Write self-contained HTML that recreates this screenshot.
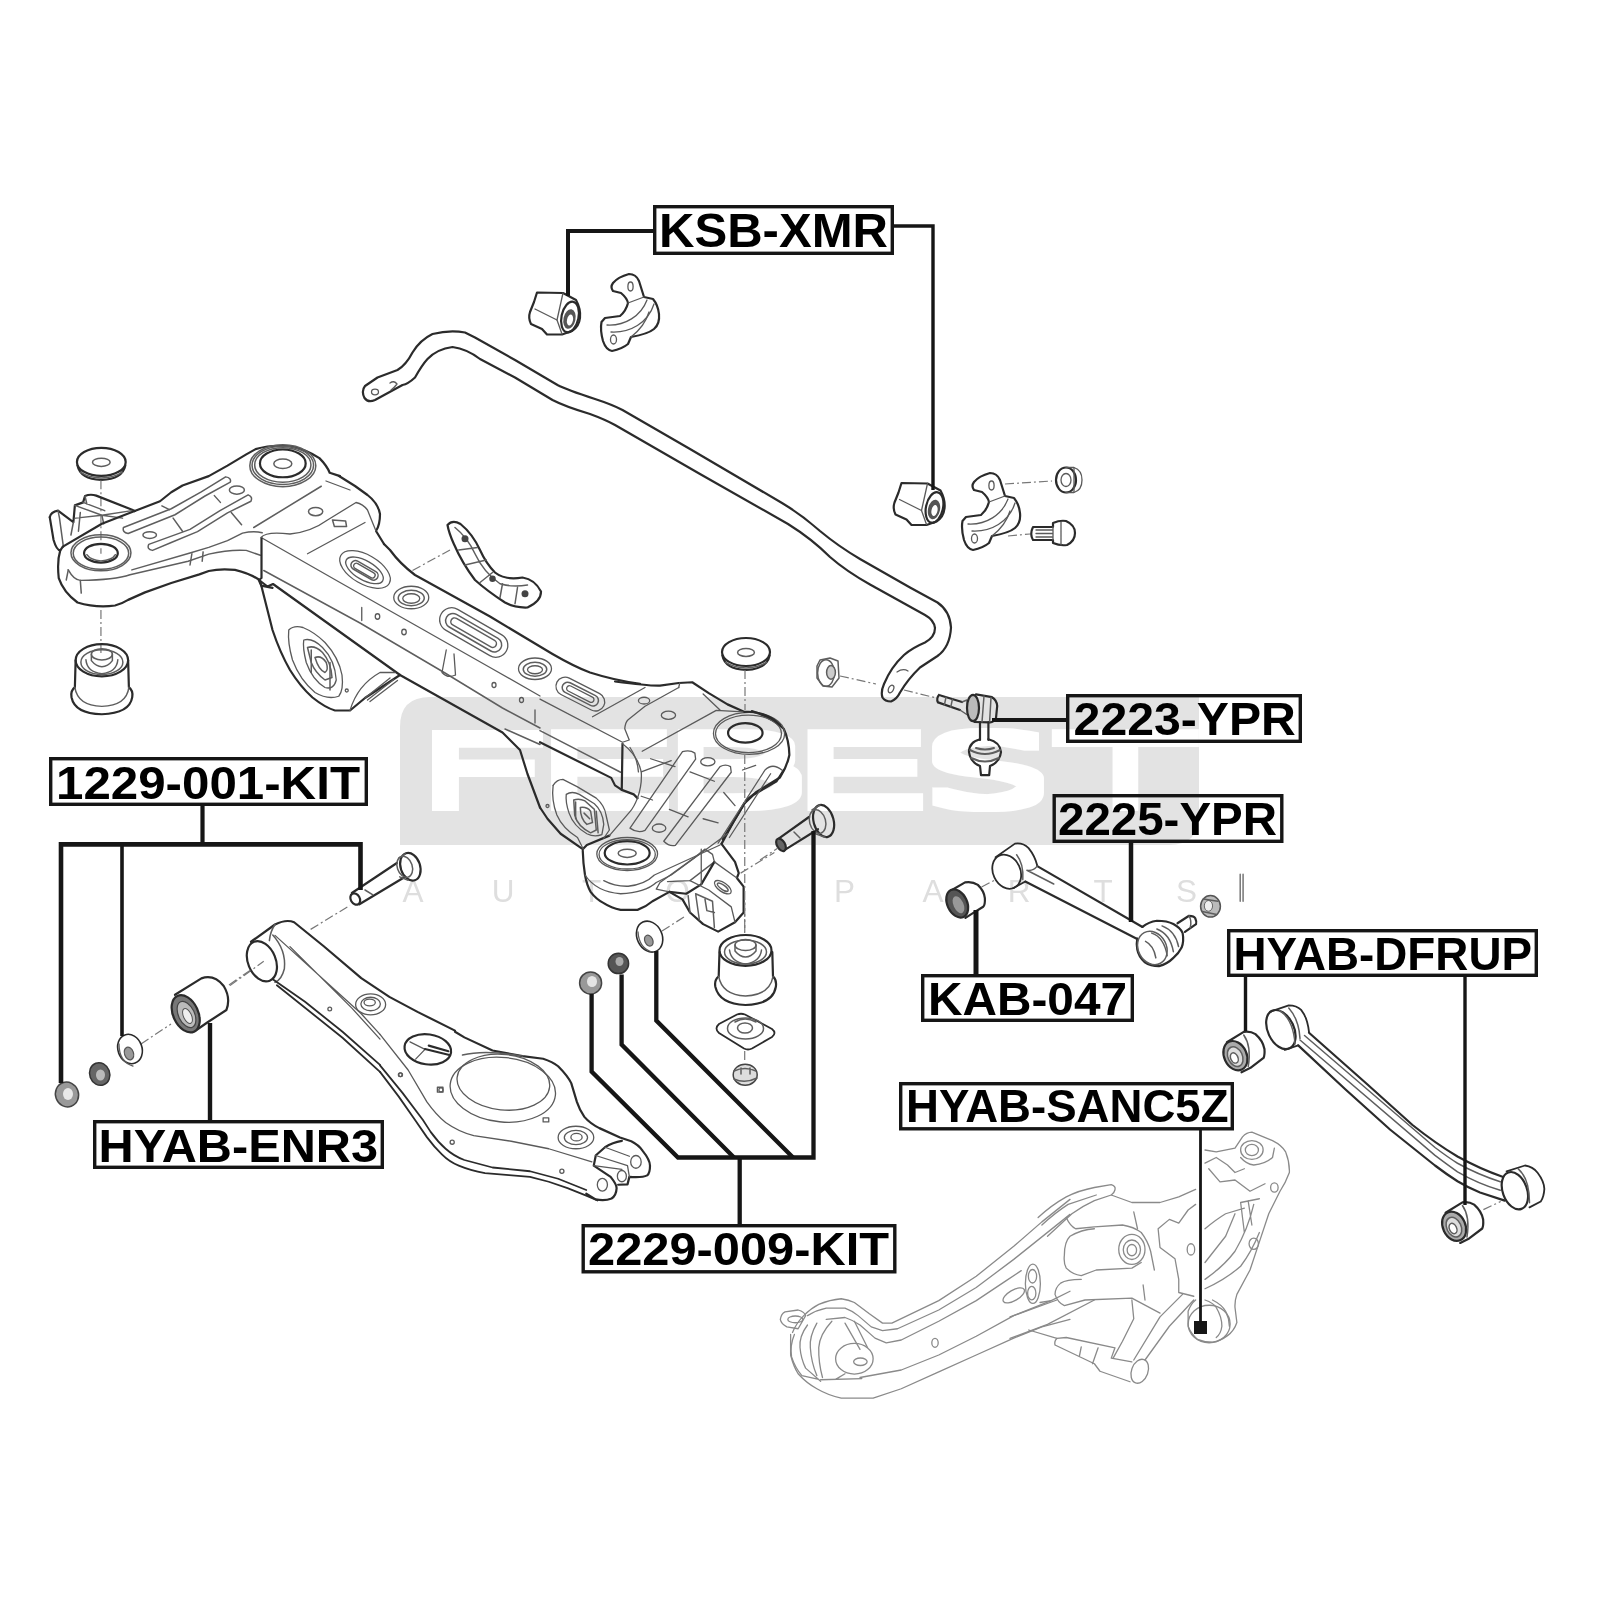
<!DOCTYPE html>
<html><head><meta charset="utf-8"><title>Rear suspension parts diagram</title>
<style>
html,body{margin:0;padding:0;background:#fff;}
body{width:1600px;height:1600px;overflow:hidden;font-family:"Liberation Sans",sans-serif;}
svg{display:block;filter:blur(0.55px)}
.o,.i,.g,.d,.m{vector-effect:non-scaling-stroke}
.o{fill:none;stroke:#2b2b2b;stroke-width:2.2;stroke-linecap:round;stroke-linejoin:round}
.i{fill:none;stroke:#5a5a5a;stroke-width:1.3;stroke-linecap:round;stroke-linejoin:round}
.g{fill:none;stroke:#8a8a8a;stroke-width:1.3;stroke-linecap:round;stroke-linejoin:round}
.d{fill:none;stroke:#777;stroke-width:1.2;stroke-dasharray:9 3 2 3}
.m{fill:none;stroke:#5e5e5e;stroke-width:1.5;stroke-linecap:round;stroke-linejoin:round}
.L{fill:none;stroke:#161616;stroke-width:4.2;stroke-linejoin:miter;stroke-linecap:butt}
.b{fill:none;stroke:#161616;stroke-width:3.4}
.t{font-family:"Liberation Sans",sans-serif;font-weight:700;fill:#000}
.w{fill:#fff}
</style></head><body>
<svg width="1600" height="1600" viewBox="0 0 1600 1600">
<rect width="1600" height="1600" fill="#fff"/>
<!-- 00_watermark.svg -->
<g id="wm">
<defs><filter id="fat" filterUnits="userSpaceOnUse" x="380" y="690" width="860" height="170"><feMorphology operator="dilate" radius="7 7"/></filter></defs>
<path d="M430 697 H1199 V815 Q1199 845 1169 845 H400 V727 Q400 697 430 697 Z" fill="#e3e3e3"/>
<text filter="url(#fat)" y="804" font-family="DejaVu Sans, Liberation Sans, sans-serif" font-weight="200" font-size="92" fill="#fff"><tspan x="406.97" textLength="150.95" lengthAdjust="spacingAndGlyphs">F</tspan><tspan x="527.96" textLength="156.12" lengthAdjust="spacingAndGlyphs">E</tspan><tspan x="655.82" textLength="155.27" lengthAdjust="spacingAndGlyphs">B</tspan><tspan x="785.18" textLength="152.37" lengthAdjust="spacingAndGlyphs">E</tspan><tspan x="920.25" textLength="133.96" lengthAdjust="spacingAndGlyphs">S</tspan><tspan x="1053.84" textLength="143.31" lengthAdjust="spacingAndGlyphs">T</tspan></text>
<g font-family="Liberation Sans, sans-serif" font-size="31.5" fill="#dedede" text-anchor="middle">
<text y="901.5"><tspan x="413">A</tspan><tspan x="503">U</tspan><tspan x="591.5">T</tspan><tspan x="682">O</tspan> <tspan x="844.5">P</tspan><tspan x="933">A</tspan><tspan x="1019">R</tspan><tspan x="1103">T</tspan><tspan x="1186.6">S</tspan></text>
</g>
</g>
<!-- p10_stab.svg -->
<g id="stab">
<defs>
<g id="bush">
<path class="o" d="M537 292.5 L563 293 L576 300 Q581 309 580 318 Q579 327 572 331 L562 334.5 L547 334.5 L542 329 L531 324 Q528 318 530 312 L534 302 Z"/>
<path class="i" d="M563 293 L557 320 L562 334"/>
<path class="i" d="M535 309 L557 320"/>
<ellipse class="o" cx="570" cy="317" rx="8.5" ry="15.5" transform="rotate(12 570 317)"/>
<ellipse cx="569.5" cy="319" rx="6" ry="10" transform="rotate(12 569.5 319)" fill="#555"/>
<ellipse cx="570" cy="320" rx="3" ry="5.5" transform="rotate(12 570 320)" fill="#fff"/>
</g>
<g id="brkt">
<path class="o" d="M613 283 Q618 277 629 274 Q636 274 639 281 L644 297 L653 299 Q658 305 659 314 Q660 324 654 329 Q648 334 631 337 L628 344 Q622 349 612 351 Q606 350 603 341 Q600 330 601.5 322 L605 318 L620 316 Q626 311 628 303 Q627 298 621 293 L613 291 Q610 287 613 283 Z"/>
<ellipse class="i" cx="630.5" cy="286.5" rx="2.6" ry="4.5"/>
<ellipse class="i" cx="613.5" cy="339.5" rx="3" ry="4.5"/>
<path class="i" d="M607 325 C625 326 641 316 647 300"/>
<path class="i" d="M611 332 C630 333 648 323 654 304"/>
<path class="i" d="M628 303 L644 297 M631 337 C640 330 646 322 649 312"/>
</g>
</defs>
<use href="#bush"/>
<use href="#brkt"/>
<use href="#bush" transform="translate(364.5 190.5)"/>
<use href="#brkt" transform="translate(361 199)"/>
<!-- bar -->
<path class="o" d="M365 386 L377.5 377.5 L397.5 370 Q406 365 412.5 352.5 Q420 340 432.500 334 Q450 329.500 465 332.500 L475 337.500 L515 360 L557.500 385 Q566 389.500 595 399 Q612 404.500 622.500 410 L690 449 L782 503 Q802 515 820 531 Q838 546 860 559 L910 587.5 L937.5 602.5 Q950 611 951 627.5 Q950 647 937.5 656 L920 667.5 Q908 679 900 692.5 Q897 699 891 701.5 Q885 701.5 882.5 697.5 Q880.5 692 884 684 Q891 667 904 655 Q912 648 925 642.5 Q935 637 935 628 Q934 620 925 615 L870 584.5 Q846 571 830 557 Q812 539 788 524 L700 474 L615 425 Q605 419.500 590 414 Q565 406.500 552.5 400 L515 377.5 L480 359 Q467 349 452.5 347 Q437 349 427.5 359 Q422 365 415 377.5 Q408 384 402.5 385 L375 400 Q368 403 364.5 398 Q361 391 365 386 Z"/>
<ellipse class="i" cx="375" cy="392" rx="3.5" ry="2.8"/>
<path class="i" d="M390 383 Q394 380 397 384 Q394 388 391 390"/>
<ellipse class="i" cx="891" cy="689" rx="2.5" ry="4" transform="rotate(25 891 689)"/>
<path class="i" d="M897 672 Q903 668 908 671"/>
<!-- nut + bolt right -->
<ellipse class="o" cx="1066" cy="480" rx="10" ry="12.5"/>
<path class="i" d="M1066 467.500 H1074 Q1082 470 1082 480 Q1082 490 1074 492.500 H1066"/>
<ellipse class="i" cx="1066" cy="480" rx="5" ry="6.5"/>
<path class="i" d="M1074 468 V492"/>
<path class="o" d="M1033 527 H1053 V523 Q1060 520 1066 521 Q1075 525 1075 533 Q1075 541 1067 545 Q1060 546 1053 543 V540 H1033 Q1029.500 534 1033 527 Z"/>
<path class="i" d="M1053 527 V540 M1061 522 V545 M1036 530 H1052 M1036 533.500 H1052 M1036 537 H1052"/>
<path class="d" d="M1005 484 L1052 481 M1008 536 L1030 534"/>
</g>
<!-- p20_subframe_left.svg -->
<g id="sfL" transform="translate(40 430) scale(0.1875)">
<!-- top washer -->
<ellipse class="o" cx="327" cy="170" rx="130" ry="75"/>
<ellipse class="m" cx="327" cy="172" rx="47" ry="22"/>
<path class="o" d="M200 190 Q215 262 327 266 Q440 262 455 190"/>
<path class="m" d="M215 225 Q260 255 327 256 Q395 255 440 225"/>
<path class="d" d="M325 268 V660 M325 960 V1190"/>
<!-- lower bushing -->
<ellipse class="o" cx="330" cy="1228" rx="140" ry="86"/>
<ellipse class="m" cx="330" cy="1238" rx="112" ry="66"/>
<ellipse class="m" cx="330" cy="1196" rx="56" ry="30"/>
<path class="m" d="M274 1196 V1230 Q300 1262 330 1262 Q362 1262 386 1230 V1196"/>
<path class="m" d="M245 1225 Q250 1290 330 1300 Q410 1290 415 1225"/>
<path class="o" d="M190 1228 L186 1372 Q162 1390 168 1425 Q185 1512 330 1516 Q478 1512 492 1425 Q498 1390 474 1372 L470 1228"/>
<path class="m" d="M186 1372 Q200 1470 330 1474 Q462 1470 474 1372"/>
<!-- ear + bracket -->
<path class="o" d="M52 465 Q58 436 96 430 L160 478 L178 492 L186 402 L230 386 L240 352 Q268 340 300 350 L488 424 L505 432"/>
<path class="o" d="M52 465 L72 585 Q88 640 108 642 L122 622"/>
<path class="m" d="M96 430 L104 470 L125 625 M178 492 L165 560 M186 402 L330 455 L490 430 M230 386 L345 430 M190 470 L330 455 L340 500 M240 352 L250 395 M215 440 L205 540 M330 455 L440 470"/>
<!-- arm outline -->
<path class="o" d="M505 432 L640 380 L700 332 L760 296 L900 246 L1000 190 L1100 130 L1150 102 Q1230 78 1330 86 Q1420 104 1490 150 Q1530 190 1545 228 L1600 246"/>
<path class="o" d="M122 622 L330 500 L505 432"/>
<path class="o" d="M108 642 Q90 700 100 790 Q125 865 200 920 Q300 950 400 936 Q440 925 470 906 L560 866 L700 816 L850 770 L900 752 Q960 738 1040 746 Q1110 762 1165 796 L1180 830 L1240 842"/>
<!-- inner edges -->
<path class="m" d="M150 745 Q180 800 215 802 Q400 800 480 772 L790 700 L900 662 Q1010 636 1100 642 L1175 668"/>
<path class="m" d="M490 746 L800 656 L900 626 L1000 590 L1080 550 Q1140 536 1185 548"/>
<path class="m" d="M150 750 L140 800 M215 802 L220 870 M810 660 L800 720 M870 650 L865 700"/>
<!-- hole rings -->
<ellipse class="m" cx="325" cy="655" rx="160" ry="96"/>
<ellipse class="m" cx="325" cy="657" rx="148" ry="86"/>
<ellipse class="o" cx="325" cy="657" rx="90" ry="50"/>
<path class="m" d="M250 665 Q270 695 325 698 Q385 695 402 665"/>
<ellipse class="m" cx="1295" cy="190" rx="176" ry="112"/>
<ellipse class="m" cx="1295" cy="188" rx="164" ry="102"/>
<ellipse class="m" cx="1295" cy="186" rx="150" ry="92"/>
<ellipse class="o" cx="1295" cy="178" rx="122" ry="74"/>
<ellipse class="m" cx="1295" cy="180" rx="48" ry="25"/>
<!-- ribs -->
<path class="m" d="M445 520 L700 420 L860 330 L990 250 Q1022 255 1015 278 L880 352 L720 452 L600 500 L470 552 Q438 546 445 520 Z"/>
<path class="m" d="M580 610 L800 530 L960 430 L1110 346 Q1136 356 1125 380 L1000 442 L840 542 L700 600 L600 642 Q568 636 580 610 Z"/>
<ellipse class="m" cx="1050" cy="320" rx="40" ry="22"/>
<ellipse class="m" cx="585" cy="560" rx="36" ry="18"/>
<ellipse class="m" cx="1470" cy="435" rx="38" ry="22"/>
<path class="m" d="M1560 480 L1630 485 L1635 515 L1570 515 Z"/>
<path class="m" d="M930 350 L962 386 M1020 440 L1075 505 M710 470 L760 540 M650 405 L690 425 M1140 520 L1500 300"/>
</g>
<!-- p21_beam.svg -->
<g id="beam" transform="translate(240 500) scale(0.25)">
<!-- upper edge -->
<path class="o" d="M576 176 L600 200 Q640 255 700 300 L1000 466 L1250 616 Q1340 668 1400 690 Q1500 722 1600 735"/>
<!-- top-face near edge -->
<path class="i" d="M88 152 L400 330 L700 500 L1000 670 L1200 784"/>
<path class="m" d="M95 282 L480 492 L820 692 L1050 832 L1200 912"/>
<path class="m" d="M1060 916 L1200 978"/>
<path class="o" d="M86 152 L86 312 L76 320 L110 346 L132 336 L640 700 L1050 930 L1120 1000 L1150 1096 L1200 1230"/>
<path class="i" d="M270 215 L500 90"/>
<!-- lower left body -->
<path class="o" d="M80 322 L130 520 Q160 610 200 680 Q240 745 290 790 Q340 830 380 842 L440 842 L500 792 L640 700"/>
<path class="i" d="M440 842 Q470 740 560 690 L620 690 M500 792 L600 712 M510 800 L615 718 M520 806 L630 722"/>
<path class="i" d="M195 520 Q215 500 252 510 Q300 530 340 570 Q395 630 408 700 Q415 760 395 785 Q350 800 300 770 Q240 720 210 640 Q190 570 195 520 Z"/>
<path class="i" d="M255 560 Q290 550 330 590 Q380 640 385 720 Q375 760 340 750 Q290 720 265 650 Q250 590 255 560 Z"/>
<path class="m" d="M270 590 Q300 580 330 610 Q365 650 368 710 L340 720 Q300 690 285 650 Z"/>
<path class="m" d="M300 630 Q325 620 345 650 Q355 680 340 690 Q315 680 300 630 Z M285 600 V690 M360 650 V760"/>
<circle class="i" cx="427" cy="762" r="6"/>
<!-- slots/bosses -->
<g transform="rotate(30 500 278)"><ellipse class="i" cx="500" cy="278" rx="112" ry="58"/><ellipse class="i" cx="500" cy="282" rx="84" ry="38"/><rect class="m" x="440" y="264" width="120" height="36" rx="18"/><rect class="i" x="452" y="272" width="96" height="22" rx="11"/></g>
<ellipse class="i" cx="685" cy="390" rx="70" ry="45"/><ellipse class="m" cx="685" cy="392" rx="52" ry="31"/><ellipse class="i" cx="685" cy="394" rx="34" ry="19"/>
<g transform="rotate(30 935 530)"><rect class="i" x="785" y="482" width="300" height="96" rx="48"/><rect class="m" x="810" y="502" width="250" height="58" rx="29"/><rect class="m" x="832" y="516" width="206" height="30" rx="15"/></g>
<ellipse class="i" cx="1180" cy="675" rx="66" ry="43"/><ellipse class="m" cx="1180" cy="677" rx="47" ry="28"/><ellipse class="i" cx="1180" cy="679" rx="30" ry="16"/>
<ellipse class="i" cx="550" cy="466" rx="9" ry="11"/><ellipse class="i" cx="656" cy="528" rx="9" ry="11"/><ellipse class="i" cx="1016" cy="740" rx="8" ry="10"/><ellipse class="i" cx="1126" cy="800" rx="8" ry="10"/>
<path class="i" d="M487 430 V482 M825 600 L808 690 M856 616 L862 700 M808 690 Q830 715 862 700 M1180 840 V892"/>
<!-- small holes at top-left -->
<!-- upper bracket -->
<path class="o" d="M830 100 Q850 78 882 96 Q930 135 960 200 Q985 255 1020 290 Q1060 322 1130 310 Q1180 318 1204 366 Q1205 405 1150 430 Q1100 432 1060 410 Q990 365 940 320 Q890 255 855 175 Q835 130 830 100 Z"/>
<path class="m" d="M860 110 Q910 150 940 215 Q975 290 1040 335 Q1090 350 1150 340 M875 200 L950 190 M900 260 L985 240 M960 330 L1010 290 M1040 390 L1050 335 M1100 415 L1110 350"/>
<circle cx="900" cy="155" r="14" fill="#444"/><circle cx="1010" cy="315" r="13" fill="#444"/><circle cx="1140" cy="375" r="14" fill="#444"/>
<path class="d" d="M690 282 L840 200"/>
</g>
<!-- p22_subframe_right.svg -->
<g id="sfR" transform="translate(540 650) scale(0.1875)">
<!-- top outer edge -->
<path class="o" d="M400 168 Q580 192 640 190 L740 176 L812 172 L900 230 L1000 290 L1085 328"/>
<path class="o" d="M1130 326 Q1230 356 1300 420 Q1328 480 1330 560 Q1318 620 1280 680 L1150 760 L1100 802 L1030 920 L968 1034"/>
<path class="o" d="M1300 640 L1262 700 L1140 772 L1090 818 L1020 936 L975 1010"/>
<path class="o" d="M968 1034 L1040 1130 L1060 1190 L1050 1216 L1086 1262 L1086 1400 L1040 1452 L950 1502 L870 1462 L800 1400 L760 1330 L690 1290"/>
<!-- lower-left round mount -->
<path class="o" d="M228 1070 Q230 1140 240 1200 Q250 1255 270 1290 Q300 1330 340 1350 Q380 1376 430 1386 L520 1386 Q565 1370 600 1340 L690 1290"/>
<path class="i" d="M240 1200 Q300 1290 430 1300 Q560 1295 620 1240 L700 1200 L1000 980"/>
<path class="i" d="M340 1230 Q400 1262 470 1260 Q560 1250 610 1200 L960 1040"/>
<ellipse class="i" cx="465" cy="1088" rx="162" ry="88"/>
<ellipse class="i" cx="465" cy="1090" rx="150" ry="78"/>
<ellipse class="o" cx="465" cy="1082" rx="120" ry="62"/>
<ellipse class="m" cx="465" cy="1084" rx="48" ry="22"/>
<!-- left side body -->
<path class="o" d="M0 840 L40 900 L110 980 L228 1062 L250 1040 L370 990"/>
<path class="i" d="M70 722 Q90 690 122 690 L200 730 L300 790 Q345 830 352 880 L370 960 L340 1004"/>
<path class="i" d="M70 722 Q60 800 90 880 Q120 950 200 1000 L230 1060"/>
<path class="i" d="M140 770 Q170 750 210 770 L290 820 Q335 860 340 930 L330 985 Q290 1000 250 980 Q180 940 155 870 Q135 810 140 770 Z"/>
<path class="m" d="M180 800 Q210 790 240 805 L290 850 L300 960 L270 975 Q200 940 185 880 Z"/>
<path class="m" d="M215 840 Q250 835 270 860 L280 920 L250 930 Q215 900 215 840 Z M190 810 V900 M300 860 L310 975 M235 870 L265 900"/>
<circle class="i" cx="40" cy="832" r="8"/>
<!-- incoming beam lower edges -->
<path class="m" d="M0 430 L430 652"/>
<path class="o" d="M0 492 L380 682 L400 722 L436 746 L500 770 L520 790"/>
<path class="o" d="M440 500 L436 746"/>
<path class="i" d="M440 500 Q520 560 540 650 Q545 720 520 790 Q500 840 480 862 L370 990"/>
<path class="i" d="M480 520 Q520 580 525 650"/>
<!-- top face -->
<path class="i" d="M0 262 L440 492 L476 480 L452 420 Q455 385 470 372 L560 300 L740 200"/>
<path class="i" d="M545 540 L940 322 L1085 330 M280 356 L560 200 M870 235 L960 320 M740 200 L745 176"/>
<g transform="rotate(27 215 235)"><rect class="i" x="75" y="186" width="280" height="98" rx="49"/><rect class="m" x="110" y="206" width="210" height="58" rx="29"/><rect class="i" x="135" y="220" width="160" height="30" rx="15"/></g>
<ellipse class="i" cx="555" cy="270" rx="30" ry="18"/><ellipse class="i" cx="685" cy="348" rx="38" ry="22"/><ellipse class="i" cx="895" cy="596" rx="38" ry="22"/><ellipse class="i" cx="635" cy="950" rx="36" ry="22"/>
<!-- top-right mount -->
<ellipse class="i" cx="1115" cy="445" rx="190" ry="112"/>
<ellipse class="i" cx="1112" cy="447" rx="176" ry="100"/>
<ellipse class="o" cx="1095" cy="442" rx="92" ry="52"/>
<path class="o" d="M1090 330 Q1200 322 1280 400"/>
<!-- ribs -->
<path class="i" d="M480 950 L760 542 Q800 530 826 550 L830 582 L560 962 Q520 980 480 950 Z"/>
<path class="i" d="M660 1020 L960 622 Q990 606 1016 622 L1020 652 L722 1042 Q690 1050 660 1020 Z"/>
<path class="i" d="M590 580 L720 622 M800 650 L930 700 M690 850 L790 890 M870 900 L950 922 M600 800 L540 780 M980 760 L1040 830"/>
<path class="i" d="M950 1030 L1200 640 Q1240 600 1290 640 M1010 1000 L1230 660 M1080 640 L1150 615 M540 650 L700 590"/>
<!-- lower bracket details -->
<path class="i" d="M690 1290 L620 1275 L640 1240 L820 1110 L880 1062 L920 1090 L930 1130 L800 1230 L680 1235"/>
<path class="o" d="M690 1290 L780 1300 L860 1250 L930 1130"/>
<path class="i" d="M800 1230 L900 1280 L1020 1370 L1040 1452 M860 1250 L860 1062 M930 1130 L1050 1216"/>
<path class="m" d="M790 1310 L800 1400 M830 1300 L920 1340 L930 1480 M830 1300 L850 1440 M880 1330 L890 1390 L930 1400"/>
<g transform="rotate(35 975 1265)"><ellipse class="i" cx="975" cy="1265" rx="52" ry="24"/><ellipse class="m" cx="975" cy="1265" rx="34" ry="12"/></g>
<path class="d" d="M1092 560 V1500 M1070 1190 L1250 1080"/>
</g>
<!-- p23_junction.svg -->
<g id="junction">
<path class="o" d="M339 476 L355 486 L367.500 495 Q378 503 380 514 Q380 525 376 531 L384 544"/>
<path class="i" d="M261 537.500 Q266 531 290 534 Q311 532 327.500 520 L356 502.500 Q363 504 367.500 510 L372.500 522.500 L376 531"/>
<path class="i" d="M326 481 L350 490"/>
</g>
<!-- p30_lowerarm.svg -->
<g id="armA" transform="translate(230 830) scale(0.1875)">
<!-- bolt -->
<path class="o" d="M650 336 L890 176 M690 396 L930 252"/>
<ellipse class="o" cx="668" cy="368" rx="24" ry="32" transform="rotate(-30 668 368)"/>
<ellipse class="o" cx="962" cy="196" rx="52" ry="76" transform="rotate(-18 962 196)"/>
<ellipse class="m" cx="932" cy="196" rx="40" ry="58" transform="rotate(-18 932 196)"/>
<path class="m" d="M900 150 L935 128 M905 250 L950 268 M720 320 L760 345"/>
<path class="d" d="M430 530 L640 402 M0 830 L180 700"/>
<!-- sleeve -->
<ellipse class="o" cx="170" cy="700" rx="74" ry="112" transform="rotate(-22 170 700)"/>
<path class="m" d="M228 560 Q300 640 290 740 Q275 800 240 812"/>
<path class="o" d="M112 596 L240 504 Q300 474 342 492 L500 620 L700 790 L850 890 L1000 970 L1200 1070"/>
<path class="m" d="M240 504 Q215 540 210 590"/>
<path class="o" d="M228 796 L400 916 L600 1076 L800 1253" style="stroke-width:1.8"/>
<path class="o" d="M250 828 L600 1108 L800 1290" style="stroke-width:1.8"/>
<path class="i" d="M240 562 L700 980 L800 1090 M320 622 L650 950 L800 1115"/>
<!-- washer on arm -->
<ellipse class="i" cx="750" cy="930" rx="80" ry="56"/><ellipse class="i" cx="750" cy="928" rx="52" ry="36"/><ellipse class="i" cx="745" cy="920" rx="30" ry="18"/>
<!-- hole with bolt -->
<ellipse class="o" cx="1055" cy="1170" rx="125" ry="80" transform="rotate(8 1055 1170)"/>
<path class="i" d="M1040 1170 L990 1222 M960 1130 L1040 1170"/>
<path class="o" d="M1040 1168 L1170 1200 M1060 1150 L1165 1180"/>
<circle class="i" cx="532" cy="955" r="10"/><circle class="i" cx="908" cy="1305" r="10"/><circle class="i" cx="1125" cy="1386" r="11"/>
</g>
<g id="armB" transform="translate(380 980) scale(0.1875)">
<path class="o" d="M400 276 L450 306 L600 376 L760 406 L870 420 Q920 436 950 460 Q1000 510 1020 550 L1050 650 Q1065 695 1090 730 Q1120 765 1170 790 L1280 840 L1340 860 Q1380 880 1400 910 Q1440 960 1440 990 Q1440 1030 1425 1042 Q1400 1055 1330 1050 L1320 1090 L1270 1092"/>
<path class="o" d="M1150 936 L1200 892 Q1240 866 1290 858 M1150 940 L1140 990 L1230 1050 Q1262 1090 1262 1110 Q1260 1150 1235 1165 Q1200 1180 1150 1170 L1100 1140"/>
<path class="i" d="M1150 936 L1320 990 L1330 1050 M1200 892 L1330 940 M1140 990 L1290 1010"/>
<ellipse class="i" cx="1365" cy="970" rx="28" ry="34"/><ellipse class="i" cx="1290" cy="1046" rx="24" ry="30"/><ellipse class="i" cx="1186" cy="1092" rx="27" ry="34"/>
<path class="o" style="stroke-width:1.8" d="M0 490 L100 622 L187 747 L250 838 Q290 892 330 930 Q370 970 420 990 Q480 1015 560 1030 L800 1050 L900 1076 L1000 1110 L1100 1150 L1160 1176"/>
<path class="o" style="stroke-width:1.8" d="M0 455 L120 602 L229 747 L270 810 Q310 865 350 900 Q395 940 450 960 L600 1000 L800 1020 L950 1060 L1100 1120"/>
<path class="i" d="M0 290 L150 480 L250 650 Q300 720 350 760 Q420 810 500 830 L700 860 L900 900 L1130 970"/>
<!-- spring seat -->
<ellipse class="i" cx="655" cy="585" rx="282" ry="172" transform="rotate(6 655 585)"/>
<ellipse class="i" cx="658" cy="545" rx="248" ry="148" transform="rotate(6 658 545)"/>
<path class="m" d="M440 400 Q560 370 760 406"/>
<!-- washer -->
<ellipse class="i" cx="1045" cy="840" rx="95" ry="60"/><ellipse class="i" cx="1045" cy="840" rx="62" ry="38"/><ellipse class="i" cx="1048" cy="838" rx="30" ry="20"/>
<circle class="i" cx="110" cy="505" r="10"/><rect class="i" x="306" y="572" width="30" height="26"/><circle class="i" cx="385" cy="865" r="11"/><rect class="i" x="870" y="735" width="30" height="22"/><circle class="i" cx="970" cy="1020" r="11"/>
</g>
<!-- p31_leftsmall.svg -->
<g id="leftsmall">
<!-- bushing HYAB-ENR3 -->
<path class="o" d="M175 994.800 L201.400 978.400 Q214 974 223.700 986 Q231 998 226.400 1010 L208 1022 L195 1031"/>
<ellipse cx="185.700" cy="1013.800" rx="12.500" ry="19.700" transform="rotate(-25 185.700 1013.800)" fill="#777" stroke="#2b2b2b" stroke-width="2.200"/>
<ellipse cx="186.500" cy="1014.500" rx="8" ry="14" transform="rotate(-25 186.500 1014.500)" fill="#bbb" stroke="#444" stroke-width="1.200"/>
<ellipse cx="187.500" cy="1016" rx="4" ry="8" transform="rotate(-25 187.500 1016)" fill="#eee" stroke="#555" stroke-width="1"/>
<path class="d" d="M141 1044 L171 1024 M229 985 L252 969"/>
<!-- washer -->
<ellipse class="o" cx="130" cy="1049" rx="12" ry="15" transform="rotate(-20 130 1049)" style="stroke-width:1.600"/>
<ellipse cx="129" cy="1053.500" rx="4.500" ry="6.500" transform="rotate(-20 129 1053.500)" fill="#999" stroke="#555" stroke-width="1.200"/>
<path class="i" d="M119 1044 Q119 1062 133 1066"/>
<!-- nuts -->
<ellipse cx="99.700" cy="1074" rx="10" ry="11.500" transform="rotate(-20 99.700 1074)" fill="#666" stroke="#333" stroke-width="1.500"/>
<ellipse cx="100.500" cy="1075" rx="4.500" ry="5.500" fill="#bbb"/>
<ellipse cx="67" cy="1094.500" rx="11.500" ry="12.500" transform="rotate(-20 67 1094.500)" fill="#999" stroke="#444" stroke-width="1.500"/>
<ellipse cx="68" cy="1094" rx="5" ry="6" fill="#e8e8e8"/>
</g>
<!-- p32_midsmall.svg -->
<g id="midsmall">
<!-- oval washer -->
<ellipse class="o" cx="649.600" cy="936.600" rx="12.500" ry="16" transform="rotate(-25 649.600 936.600)" style="stroke-width:1.600"/>
<ellipse cx="648.800" cy="940.600" rx="4" ry="5.700" transform="rotate(-25 648.800 940.600)" fill="#999" stroke="#555" stroke-width="1.200"/>
<path class="i" d="M638 932 Q639 948 652 952"/>
<path class="d" d="M662 931 L684 917"/>
<!-- nuts -->
<circle cx="618.400" cy="963.400" r="10.200" fill="#555" stroke="#333" stroke-width="1.500"/>
<ellipse cx="619.500" cy="961.500" rx="4" ry="4.500" fill="#aaa"/>
<circle cx="590.600" cy="982.900" r="11" fill="#999" stroke="#444" stroke-width="1.500"/>
<ellipse cx="592" cy="981.500" rx="5" ry="5.500" fill="#e4e4e4"/>
<!-- bushing -->
<ellipse class="o" cx="745.500" cy="950.400" rx="26" ry="15.400"/>
<ellipse class="m" cx="745.500" cy="952" rx="21" ry="12"/>
<ellipse class="m" cx="745.500" cy="945" rx="10.500" ry="5.600"/>
<path class="m" d="M735 945 V951 Q740 957 745.500 957 Q751 957 756 951 V945"/>
<path class="m" d="M729.500 950 Q731 962 745.500 964 Q760 962 761.500 950"/>
<path class="o" d="M719.500 952 L718.700 976.400 Q714 980 715.400 987 Q719.500 1004 745.500 1005 Q773 1004 775.800 987 Q777 980 773 976.400 L772.300 952"/>
<path class="m" d="M718.700 976.400 Q722 995 745.500 996 Q770 995 773 976.400"/>
<!-- plate -->
<path class="o" d="M719 1024 L737 1014.500 Q741 1013 745 1014.500 L772 1029 Q777 1033 772 1037 L752 1048.500 Q748 1050.500 744 1048.500 L719 1033 Q714 1028.500 719 1024 Z" style="stroke-width:1.800"/>
<ellipse class="m" cx="745.500" cy="1028.400" rx="18" ry="10.500"/>
<ellipse class="m" cx="745" cy="1028" rx="7.500" ry="5"/>
<path class="m" d="M735 1022 Q745 1016 756 1022"/>
<!-- bottom nut -->
<ellipse cx="745.200" cy="1074.700" rx="12" ry="10.500" fill="#ddd" stroke="#444" stroke-width="1.500"/>
<path class="m" d="M734 1071 Q745 1066 756 1071 M734 1079 Q745 1084 757 1078 M741 1068 V1074 M750 1068 V1074"/>
<path class="d" d="M744.700 902 V935 M744.700 1051 V1063"/>
</g>
<!-- p33_link.svg -->
<g id="linkarea" transform="translate(700 620) scale(0.2)">
<!-- top washer -->
<ellipse class="o" cx="230" cy="160" rx="120" ry="70"/>
<ellipse class="m" cx="230" cy="162" rx="42" ry="20"/>
<path class="o" d="M112 178 Q125 245 230 250 Q335 245 348 178"/>
<path class="m" d="M128 212 Q170 238 230 240 Q290 238 332 212"/>
<!-- nut -->
<path class="m" d="M600 200 L650 190 L690 205 L695 290 L660 335 L615 330 L585 290 L585 230 Z"/>
<ellipse class="m" cx="630" cy="265" rx="42" ry="66"/>
<ellipse class="m" cx="655" cy="262" rx="22" ry="34" fill="#ccc" style="fill:#ccc"/>
<path class="d" d="M700 280 L880 320 M1020 350 L1190 392"/>
<!-- link stud -->
<path class="o" d="M1195 375 L1310 410 M1190 412 L1300 450 M1195 375 Q1180 392 1190 412"/>
<path class="m" d="M1230 386 L1222 424 M1262 396 L1254 436 M1310 410 L1335 400 L1345 480 L1300 450"/>
<ellipse class="o" cx="1365" cy="440" rx="30" ry="66" style="fill:#bbb"/>
<path class="o" d="M1380 372 L1460 386 Q1484 400 1486 430 L1480 490 Q1470 510 1450 512 L1372 510"/>
<path class="m" d="M1420 380 L1410 510 M1455 388 L1448 510"/>
<path class="o" d="M1400 512 V600 M1442 512 V600"/>
<path class="o" d="M1400 596 Q1345 610 1345 660 Q1350 710 1400 730 L1405 776 L1446 776 L1450 730 Q1500 710 1505 660 Q1500 610 1442 596"/>
<path class="m" d="M1350 650 Q1425 690 1500 650 M1356 690 Q1425 725 1494 690 M1380 640 Q1425 655 1470 640" style="stroke-width:2"/>
<!-- right bolt -->
<path class="o" d="M395 1092 L545 985 M420 1152 L590 1046"/>
<ellipse class="o" cx="405" cy="1124" rx="20" ry="34" transform="rotate(-30 405 1124)" style="fill:#666"/>
<ellipse class="o" cx="618" cy="1005" rx="50" ry="82" transform="rotate(-15 618 1005)"/>
<ellipse class="m" cx="588" cy="1008" rx="40" ry="60" transform="rotate(-15 588 1008)"/>
<path class="m" d="M560 950 L600 925 M575 1068 L625 1086 M470 1060 L500 1090"/>
<path class="d" d="M225 250 V450 M300 1200 L390 1140"/>
</g>
<!-- p40_arm2225.svg -->
<g id="arm2225" transform="translate(930 830) scale(0.20625)">
<!-- KAB-047 bushing -->
<path class="o" d="M98 296 L170 254 Q205 248 232 266 Q262 295 266 330 Q268 362 258 372 L210 402 L172 426"/>
<ellipse cx="132" cy="356" rx="48" ry="72" transform="rotate(-25 132 356)" style="fill:#555" class="o"/>
<ellipse cx="138" cy="362" rx="24" ry="44" transform="rotate(-25 138 362)" fill="#999"/>
<path class="d" d="M250 276 L320 240"/>
<!-- sleeve -->
<ellipse class="o" cx="372" cy="202" rx="66" ry="86" transform="rotate(-25 372 202)" style="stroke-width:1.800"/>
<path class="o" d="M318 132 L412 66 Q450 60 478 88 Q508 125 520 172 M404 282 L462 250" style="stroke-width:1.800"/>
<path class="m" d="M420 120 Q455 165 450 240"/>
<!-- arm -->
<path class="o" d="M520 175 L1030 470 M462 250 L1000 526"/>
<path class="m" d="M470 195 L600 262 M520 175 Q500 200 470 195"/>
<!-- ball joint -->
<path class="o" d="M1030 470 Q1060 445 1100 440 Q1150 440 1180 456 Q1215 475 1225 500 Q1232 540 1220 570 Q1205 600 1180 620 Q1150 650 1110 660 Q1070 660 1040 640 Q1012 615 1005 580 Q1000 550 1005 526"/>
<ellipse class="m" cx="1078" cy="572" rx="68" ry="84" transform="rotate(-28 1078 572)"/>
<path class="m" d="M1075 500 Q1135 520 1150 610 M1100 480 Q1165 505 1180 590 M1125 465 Q1190 490 1205 565 M1045 540 Q1085 560 1095 620"/>
<path class="o" d="M1200 452 L1256 416 Q1280 416 1286 428 Q1294 445 1290 456 L1236 494"/>
<path class="m" d="M1256 416 Q1270 440 1262 474"/>
<!-- nut -->
<ellipse cx="1360" cy="370" rx="48" ry="52" fill="#bbb" stroke="#555" stroke-width="1.500" style="vector-effect:non-scaling-stroke"/>
<ellipse cx="1350" cy="368" rx="20" ry="26" fill="#eee" stroke="#666" stroke-width="1" style="vector-effect:non-scaling-stroke"/>
<path class="m" d="M1325 335 L1395 345 M1320 395 L1390 410"/>
<!-- pin -->
<path class="m" d="M1504 215 V345 M1518 215 V345" style="stroke:#777"/>
</g>
<!-- p41_armDFRUP.svg -->
<g id="armD" transform="translate(1210 990) scale(0.225)">
<defs>
<g id="bshD">
<path class="o" d="M75 232 L150 186 Q180 182 202 196 Q235 225 242 262 Q244 290 238 302 L180 346 L140 366"/>
<ellipse class="o" cx="113" cy="292" rx="50" ry="68" transform="rotate(-25 113 292)" style="fill:#aaa"/>
<ellipse class="m" cx="112" cy="296" rx="32" ry="46" transform="rotate(-25 112 296)" style="fill:#ddd"/>
<ellipse class="m" cx="108" cy="302" rx="16" ry="24" transform="rotate(-25 108 302)" style="fill:#fff"/>
<path class="m" d="M150 200 Q185 250 170 340"/>
</g>
</defs>
<use href="#bshD"/>
<use href="#bshD" transform="translate(972 758)"/>
<!-- left sleeve -->
<ellipse class="o" cx="315" cy="176" rx="58" ry="92" transform="rotate(-25 315 176)"/>
<path class="o" d="M268 96 L350 68 Q385 68 405 88 Q432 120 440 186 M332 266 L392 246" style="stroke-width:1.800"/>
<path class="m" d="M310 92 Q370 130 378 240 M350 80 Q395 130 400 215"/>
<!-- arm -->
<path class="o" d="M440 190 L700 420 L900 600 Q1000 680 1100 740 Q1200 795 1300 830"/>
<path class="o" d="M392 246 L600 440 L800 620 L1000 780 Q1050 818 1100 850 Q1150 880 1200 900 L1310 936"/>
<path class="m" d="M420 202 L1000 700 Q1060 745 1100 770 Q1190 820 1290 852 M400 222 L1000 735 Q1060 780 1100 808 Q1190 860 1290 890"/>
<!-- right sleeve -->
<ellipse class="o" cx="1355" cy="892" rx="54" ry="86" transform="rotate(-20 1355 892)"/>
<path class="o" d="M1318 806 L1400 780 Q1435 785 1456 812 Q1485 850 1486 884 Q1484 920 1470 940 L1420 966" style="stroke-width:1.800"/>
<path class="m" d="M1370 795 Q1420 840 1420 945"/>
<path class="d" d="M1215 976 L1292 940"/>
</g>
<!-- p50_trailing.svg -->
<g id="trailL" transform="translate(770 1160) scale(0.1875)">
<path class="g" d="M120 920 Q140 870 180 830 Q220 790 260 770 Q320 745 380 740 Q420 745 450 760 L530 820 L600 870 L650 870 L900 750 L1100 620 L1300 460 L1450 330 L1600 210"/>
<path class="g" d="M200 830 Q250 800 300 790 L400 790 Q440 805 470 830 L540 890 L600 910 L680 900 L900 800 L1100 680 L1300 530 L1600 290"/>
<path class="g" d="M300 850 L400 840 Q445 855 480 880 L560 950 L620 975 L700 960 L900 860 L1100 750 L1250 650 L1340 590"/>
<path class="g" d="M110 930 L110 1040 Q125 1100 150 1140 Q195 1190 250 1220 Q310 1255 380 1270 L550 1270 L700 1220 L900 1130 L1100 1040 L1300 950 L1450 890 L1600 850"/>
<path class="g" d="M480 1160 L700 1120 L900 1040 L1100 940 L1300 830 L1500 750 L1600 700"/>
<path class="g" d="M55 850 Q60 820 80 810 L150 800 Q185 810 190 830 L150 900 L90 890 Q60 875 55 850 Z"/>
<ellipse class="g" cx="135" cy="850" rx="40" ry="18"/>
<path class="g" d="M130 930 Q105 990 115 1050 Q135 1110 170 1150 L260 1170 M200 880 Q155 940 160 1000 Q165 1060 190 1110 L270 1180 M250 870 Q210 940 215 1000 Q220 1080 250 1150 M330 860 Q265 930 260 1000 Q258 1080 280 1160"/>
<ellipse class="g" cx="450" cy="1060" rx="100" ry="82"/>
<ellipse class="g" cx="482" cy="1076" rx="36" ry="20"/>
<path class="g" d="M400 870 L480 1010 M450 860 L520 1000 M270 1172 L490 1166 M400 1140 L350 1170"/>
<ellipse class="g" cx="880" cy="975" rx="17" ry="24"/>
<ellipse class="g" cx="1402" cy="660" rx="40" ry="105"/>
<ellipse class="g" cx="1400" cy="620" rx="22" ry="36"/><ellipse class="g" cx="1396" cy="710" rx="22" ry="36"/>
<ellipse class="g" cx="1300" cy="722" rx="64" ry="28" transform="rotate(-30 1300 722)"/>
<path class="g" d="M1440 760 L1500 750"/>
</g>
<g id="trailR" transform="translate(1010 1120) scale(0.1875)">
<path class="g" d="M150 520 Q220 455 300 410 Q370 375 450 360 L540 345 Q565 352 560 372 Q555 392 540 400 L450 430 Q385 460 330 500 L200 620 M170 560 Q240 495 310 450 L460 400"/>
<path class="g" d="M540 400 L650 440 L800 440 L900 410 L990 370"/>
<path class="g" d="M1040 160 L1100 170 L1200 150 L1240 90 Q1262 66 1290 65 L1400 110 Q1450 135 1470 170 Q1492 225 1490 280 Q1470 335 1440 380 L1380 500 L1330 650 L1280 800 L1210 930 Q1198 965 1200 1000 L1210 1080 Q1195 1125 1160 1150 Q1120 1180 1080 1185 Q1035 1185 1000 1170 Q965 1140 950 1100 L950 1020 Q965 980 990 960"/>
<ellipse class="g" cx="1290" cy="160" rx="60" ry="50"/><ellipse class="g" cx="1290" cy="160" rx="35" ry="30"/>
<path class="g" d="M1230 200 Q1260 235 1300 240 Q1360 235 1400 200 L1410 150 M1040 230 L1100 200 L1160 240 L1200 280 L1250 260 M1060 260 L1120 330 L1200 320 L1280 380 L1360 340"/>
<path class="g" d="M300 520 Q320 565 350 580 L450 570 L600 560 Q660 570 700 600 Q735 645 750 700 L770 800"/>
<path class="g" d="M290 720 Q290 650 320 620 Q380 585 450 580 M290 720 Q285 765 300 790 Q335 825 380 830 L460 800 L650 790 L700 760"/>
<path class="g" d="M380 850 Q300 850 270 870 Q240 895 240 930 Q255 975 290 990 L400 960 L650 950 L800 1030"/>
<ellipse class="g" cx="650" cy="690" rx="70" ry="80"/><ellipse class="g" cx="650" cy="692" rx="46" ry="52"/><ellipse class="g" cx="650" cy="694" rx="25" ry="30"/>
<path class="g" d="M990 450 L950 480 L900 550 L850 530 L790 580 L800 680 L880 740 L900 850 L900 920 L980 940"/>
<path class="g" d="M1040 580 Q1100 530 1150 500 L1250 470 M1040 760 L1150 620 L1200 500 M1040 850 Q1140 780 1200 700 Q1270 580 1300 450 M1040 900 Q1150 850 1230 780 Q1290 700 1330 600 M1230 440 L1250 600 M1270 430 L1290 560 M1230 440 L1330 420"/>
<ellipse class="g" cx="965" cy="690" rx="20" ry="30"/><ellipse class="g" cx="1300" cy="660" rx="25" ry="30"/><ellipse class="g" cx="1410" cy="360" rx="20" ry="25"/>
<ellipse class="g" cx="1062" cy="1088" rx="112" ry="100"/>
<path class="g" d="M1040 960 Q1085 975 1100 1000 Q1130 1050 1130 1100 Q1125 1140 1100 1160 M1080 960 Q1130 985 1150 1020 Q1170 1060 1170 1100"/>
<path class="g" d="M920 930 L800 1050 L660 1280 M980 960 L850 1100 L720 1280"/>
<ellipse class="g" cx="692" cy="1340" rx="44" ry="66" transform="rotate(20 692 1340)"/>
<path class="g" d="M250 1165 L300 1160 L560 1215 L540 1270 L650 1290 M250 1165 Q235 1180 240 1200 L450 1300 L480 1340 L640 1396 M380 1210 L370 1260 M470 1215 L440 1300"/>
<path class="g" d="M0 1050 L250 960 M0 1165 L200 1090 L450 960 M100 1120 L250 1165 M650 960 L660 1060 L600 1180 L550 1270 M710 880 L720 960 M660 490 L680 580"/>
</g>
<!-- 90_leaders.svg -->
<g id="leaders" class="L">
<path d="M653 231 H568 V296" style="stroke-width:4"/>
<path d="M894 226 H933 V490" style="stroke-width:3.4"/>
<path d="M202.5 806 V844" style="stroke-width:4.2"/>
<path d="M61 1083 V844.4 H360.5 V890" style="stroke-width:4.6"/>
<path d="M122 844 V1036" style="stroke-width:3.6"/>
<path d="M210 1023 V1120" style="stroke-width:4.4"/>
<path d="M992 720 H1066" style="stroke-width:3.8"/>
<path d="M1131 843 V922" style="stroke-width:4.5"/>
<path d="M976 910 V974" style="stroke-width:5"/>
<g style="stroke-width:3.4"><path d="M1245.5 977 V1031"/><path d="M1465 977 V1205"/></g>
<path d="M1200.5 1130 V1327" style="stroke-width:2.8"/>
<rect x="1194" y="1321" width="13" height="13" fill="#161616" stroke="none"/>
<g style="stroke-width:4.3"><path d="M739.7 1224 V1157.5"/><path d="M813.5 831 V1157.5 H678 L591.6 1071.5 V994"/><path d="M734 1157.5 L621.6 1044.5 V974.5"/><path d="M793 1157.5 L656.3 1020.6 V951"/></g>
</g>
<!-- 95_labels.svg -->
<g id="labels">
<rect class="b" x="654.7" y="206.7" width="237.6" height="46.6"/><text class="t" x="659.0" y="246.8" font-size="48" textLength="229.0" lengthAdjust="spacingAndGlyphs">KSB-XMR</text>
<rect class="b" x="50.7" y="758.7" width="315.6" height="45.6"/><text class="t" x="56.0" y="798.5" font-size="46" textLength="304.0" lengthAdjust="spacingAndGlyphs">1229-001-KIT</text>
<rect class="b" x="94.7" y="1121.7" width="287.6" height="45.6"/><text class="t" x="98.6" y="1162.0" font-size="46" textLength="279.4" lengthAdjust="spacingAndGlyphs">HYAB-ENR3</text>
<rect class="b" x="1067.7" y="695.7" width="232.6" height="45.6"/><text class="t" x="1073.6" y="735.0" font-size="46" textLength="222.2" lengthAdjust="spacingAndGlyphs">2223-YPR</text>
<rect class="b" x="1054.2" y="795.7" width="227.6" height="45.6"/><text class="t" x="1058.0" y="835.0" font-size="46" textLength="219.0" lengthAdjust="spacingAndGlyphs">2225-YPR</text>
<rect class="b" x="922.7" y="975.7" width="209.6" height="44.6"/><text class="t" x="928.0" y="1015.2" font-size="46" textLength="199.0" lengthAdjust="spacingAndGlyphs">KAB-047</text>
<rect class="b" x="1228.7" y="930.7" width="307.6" height="44.6"/><text class="t" x="1233.5" y="970.2" font-size="46" textLength="298.5" lengthAdjust="spacingAndGlyphs">HYAB-DFRUP</text>
<rect class="b" x="900.7" y="1083.7" width="331.6" height="45.1"/><text class="t" x="906.0" y="1121.5" font-size="46" textLength="322.5" lengthAdjust="spacingAndGlyphs">HYAB-SANC5Z</text>
<rect class="b" x="583.2" y="1225.7" width="311.6" height="46.1"/><text class="t" x="588.0" y="1264.7" font-size="46" textLength="301.0" lengthAdjust="spacingAndGlyphs">2229-009-KIT</text>
</g>
</svg>
</body></html>
